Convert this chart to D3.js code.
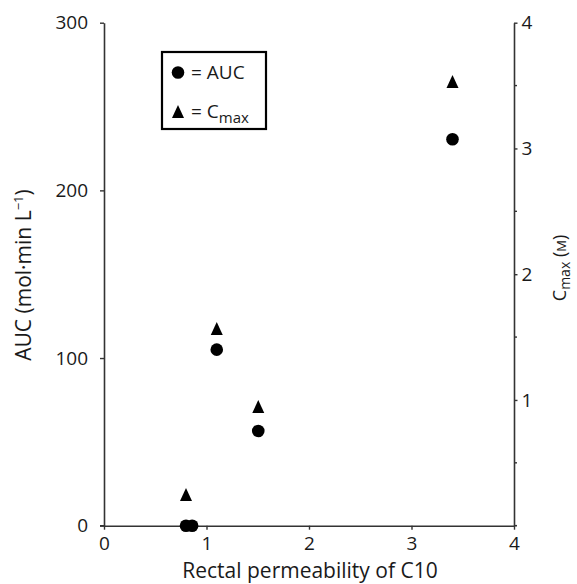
<!DOCTYPE html>
<html><head><meta charset="utf-8">
<script src="https://cdn.jsdelivr.net/npm/d3@7"></script>
<style>body{margin:0;background:#fff}text{font-family:"Open Sans","Noto Sans",sans-serif;fill:#1a1a1a}</style>
</head><body><svg id="c" width="577" height="584"></svg>
<script>
const permeability = [0.80, 0.86, 1.10, 1.505, 3.40];
const aucValues = [0, 0, 105, 56.5, 230.5];
const cmaxValues = [0.236, null, 1.556, 0.936, 3.52];
const xTicks = [0, 1, 2, 3, 4];
const leftTicks = [0, 100, 200, 300];
const rightTicks = [1, 2, 3, 4];
const rightMinor = [0.5, 1.5, 2.5, 3.5];

const svg = d3.select("#c");
const x = d3.scaleLinear().domain([0, 4]).range([104, 514]);
const yL = d3.scaleLinear().domain([0, 300]).range([525.7, 22.7]);
const yR = d3.scaleLinear().domain([0, 4]).range([525.7, 22.7]);
const col = "#333";
const fmt = d3.format("d");

function style(g){ g.select(".domain").attr("stroke", col).attr("stroke-width", 1.6);
  g.selectAll(".tick line").attr("stroke", col).attr("stroke-width", 1.4);
  g.selectAll(".tick text").style("font-size", "19px").attr("fill", "#1a1a1a"); }

const gx = svg.append("g").attr("transform", "translate(0,525.7)")
  .call(d3.axisBottom(x).tickValues(xTicks).tickFormat(fmt).tickSize(4).tickSizeOuter(0).tickPadding(7));
style(gx);
svg.append("line").attr("x1", x(4)).attr("x2", x(4) + 3).attr("y1", 525.7).attr("y2", 525.7).attr("stroke", col).attr("stroke-width", 1.6);
svg.append("line").attr("x1", x(0) - 4).attr("x2", x(0)).attr("y1", 525.7).attr("y2", 525.7).attr("stroke", col).attr("stroke-width", 1.4);

const gl = svg.append("g").attr("transform", "translate(104,0)")
  .call(d3.axisLeft(yL).tickValues(leftTicks).tickFormat(fmt).tickSize(4).tickSizeOuter(0).tickPadding(12));
style(gl);

const gr = svg.append("g").attr("transform", "translate(514,0)")
  .call(d3.axisRight(yR).tickValues(rightTicks).tickFormat(fmt).tickSize(3.5).tickSizeOuter(0).tickPadding(4));
style(gr);
gr.selectAll(".minor").data(rightMinor).enter().append("line")
  .attr("x1", 0).attr("x2", 3).attr("y1", d => yR(d)).attr("y2", d => yR(d))
  .attr("stroke", col).attr("stroke-width", 1.4);

// axis titles
svg.append("text").attr("x", 310).attr("y", 578).attr("text-anchor", "middle")
  .style("font-size", "21px").text("Rectal permeability of C10");

const lt = svg.append("text").attr("transform", "translate(31,275) rotate(-90)")
  .attr("text-anchor", "middle").style("font-size", "21px");
lt.append("tspan").text("AUC (mol·min L");
lt.append("tspan").text("−1").attr("dy", -8).style("font-size", "13px");
lt.append("tspan").text(")").attr("dy", 8);

const rt = svg.append("text").attr("transform", "translate(566,268) rotate(-90)")
  .attr("text-anchor", "middle").style("font-size", "18px");
rt.append("tspan").text("C");
rt.append("tspan").text("max").attr("dy", 4).style("font-size", "14px");
rt.append("tspan").text(" (").attr("dy", -4);
rt.append("tspan").text("M").style("font-size", "13px");
rt.append("tspan").text(")");

// data
const tri = (cx, cy) => `M${cx},${cy-7}L${cx+6},${cy+6}L${cx-6},${cy+6}Z`;
svg.append("g").selectAll("path").data(permeability.map((p, i) => [p, cmaxValues[i]]).filter(d => d[1] != null))
  .enter().append("path").attr("d", d => tri(x(d[0]), yR(d[1]) - 1)).attr("fill", "#000");
svg.append("g").selectAll("circle").data(permeability.map((p, i) => [p, aucValues[i]]))
  .enter().append("circle").attr("cx", d => x(d[0])).attr("cy", d => yL(d[1])).attr("r", 6.3).attr("fill", "#000");

// legend
const lg = svg.append("g");
lg.append("rect").attr("x", 162).attr("y", 52).attr("width", 104).attr("height", 77)
  .attr("fill", "none").attr("stroke", "#000").attr("stroke-width", 2.2);
lg.append("circle").attr("cx", 178).attr("cy", 72.5).attr("r", 6.3).attr("fill", "#000");
lg.append("path").attr("d", tri(178, 112)).attr("fill", "#000");
lg.append("text").attr("x", 191).attr("y", 79).style("font-size", "19px").text("= AUC");
const lt2 = lg.append("text").attr("x", 191).attr("y", 118).style("font-size", "19px");
lt2.append("tspan").text("= C");
lt2.append("tspan").text("max").attr("dy", 5).style("font-size", "15px");
</script></body></html>
